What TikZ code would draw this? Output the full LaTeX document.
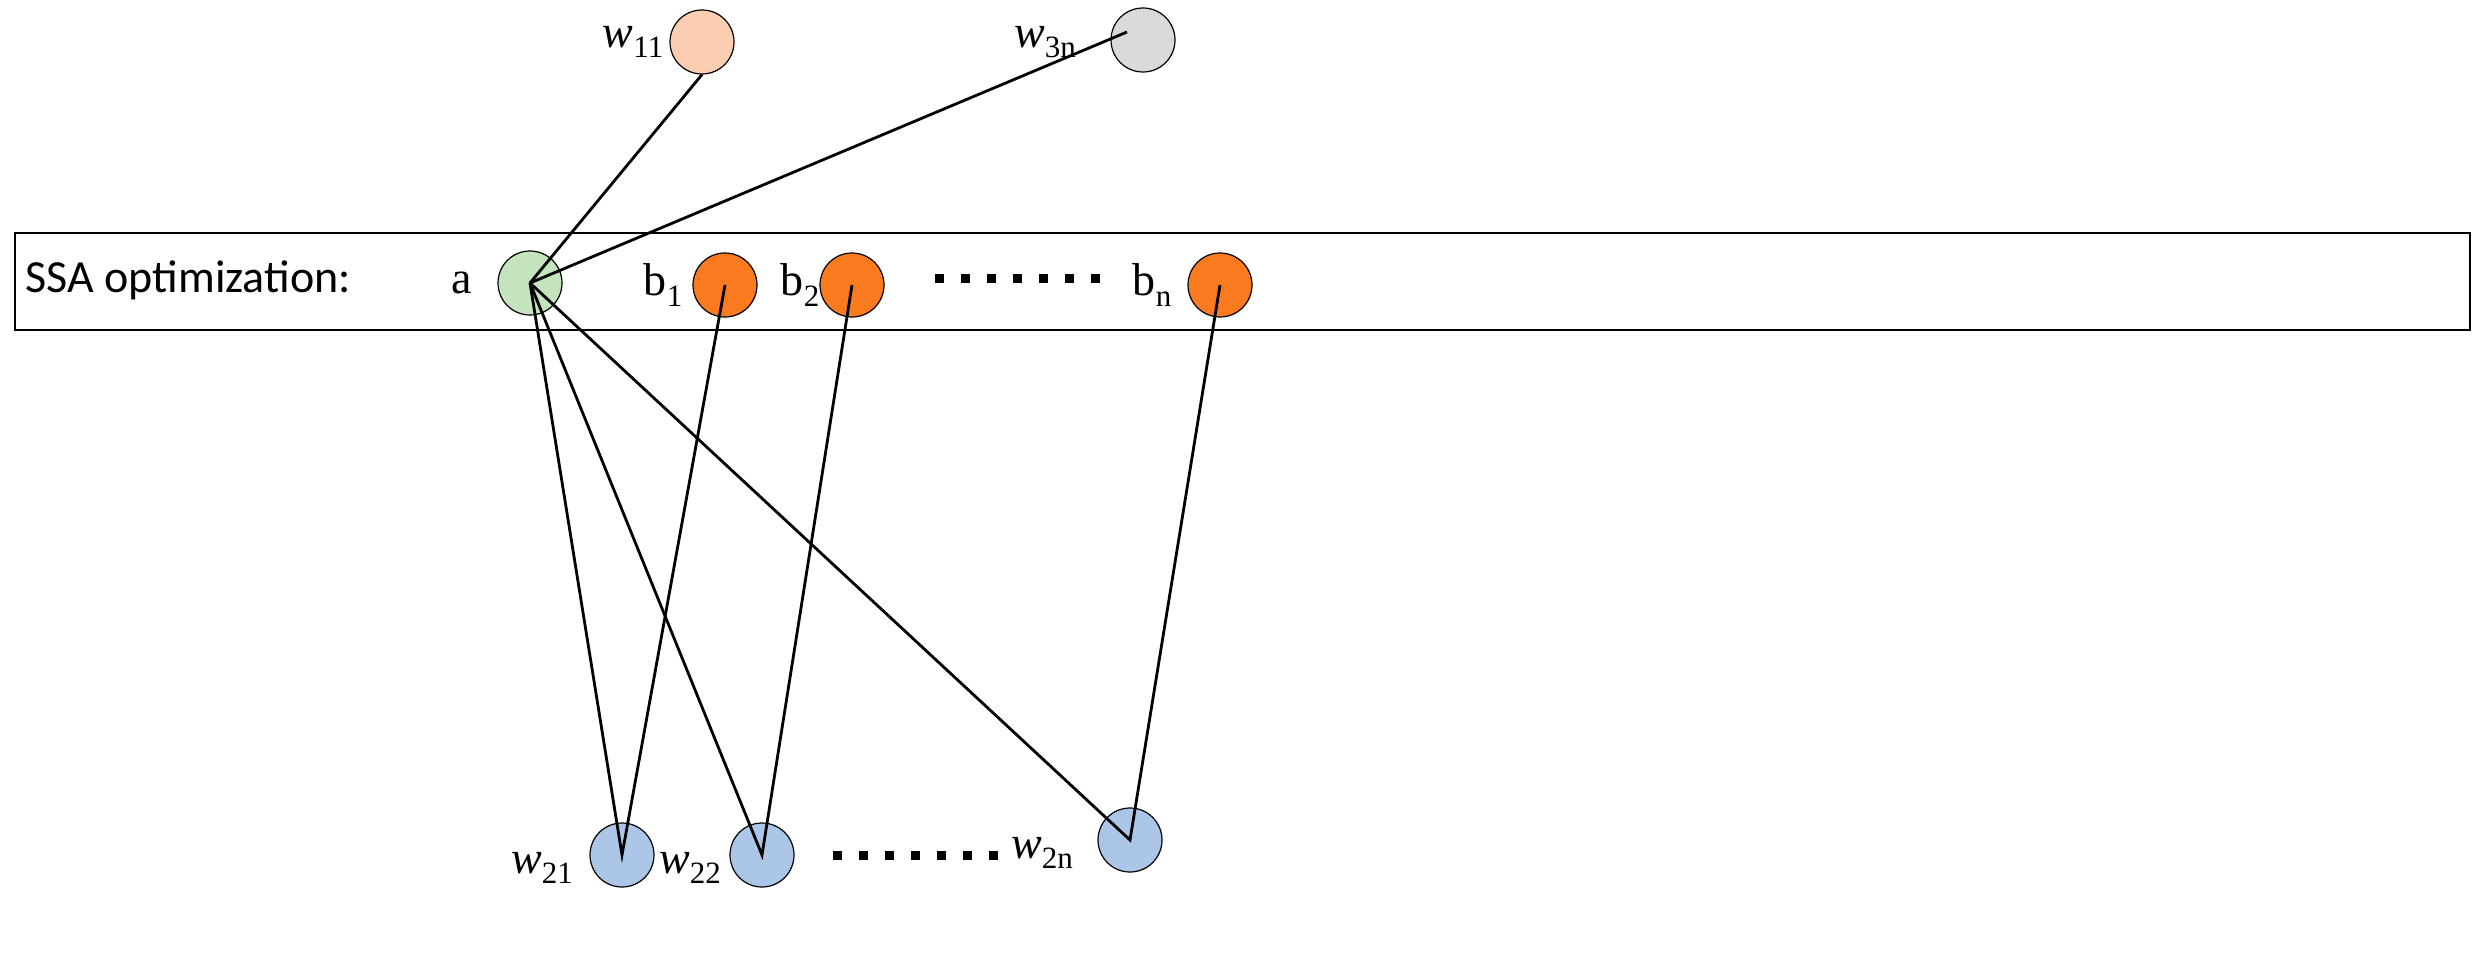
\documentclass[tikz,border=0pt]{standalone}
\usepackage{fontspec}
\setmainfont{Liberation Serif}
\newfontfamily\sansf{Carlito}
\newcommand{\sbx}[1]{\raisebox{-0.22em}{\fontsize{31}{34}\selectfont #1}}
\definecolor{bl}{RGB}{172,198,232}
\definecolor{gr}{RGB}{196,228,190}
\definecolor{og}{RGB}{250,122,32}
\definecolor{pc}{RGB}{251,206,178}
\definecolor{gy}{RGB}{218,218,218}
\begin{document}
\begin{tikzpicture}[x=1pt,y=-1pt,
  nd/.style={circle,draw=black,line width=1.2pt,minimum width=64pt,inner sep=0pt},
  lab/.style={font=\fontsize{46}{50}\selectfont,inner sep=0pt},
  ln/.style={line width=2.8pt},
  dots/.style={line width=9pt,dash pattern=on 9pt off 17pt}]
\useasboundingbox (0,0) rectangle (2488,955);
\draw[line width=2.6pt] (15,233) rectangle (2470,330);
\node[anchor=west,font=\sansf\fontsize{46}{50}\selectfont] (ssa) at (22,280) {SSA optimization:};
\node[nd,fill=gr] (a) at (530,283) {};
\node[nd,fill=og] (b1) at (725,285) {};
\node[nd,fill=og] (b2) at (852,285) {};
\node[nd,fill=og] (bn) at (1220,285) {};
\node[nd,fill=pc] (w11) at (702,42) {};
\node[nd,fill=gy] (w3n) at (1143,40) {};
\node[nd,fill=bl] (w21) at (622,855) {};
\node[nd,fill=bl] (w22) at (762,855) {};
\node[nd,fill=bl] (w2n) at (1130,840) {};
\node[lab] (la) at (462,283) {a};
\node[lab] (lb1) at (663,285) {b\sbx{1}};
\node[lab] (lb2) at (800,285) {b\sbx{2}};
\node[lab] (lbn) at (1152,285) {b\sbx{n}};
\node[lab] (lw11) at (633,42) {\textit{w}\sbx{11}};
\node[lab] (lw3n) at (1045,42) {\textit{w}\sbx{3n}};
\node[lab] (lw21) at (542,868) {\textit{w}\sbx{21}};
\node[lab] (lw22) at (690,868) {\textit{w}\sbx{22}};
\node[lab] (lw2n) at (1042,853) {\textit{w}\sbx{2n}};
\coordinate (d1a) at (935,278); \coordinate (d1b) at (1105,278);
\coordinate (d2a) at (833,855); \coordinate (d2b) at (1000,855);
\draw[dots] (d1a) -- (d1b);
\draw[dots] (d2a) -- (d2b);
\draw[ln] (a.center) -- (w11.south);
\draw[ln] (a.center) -- ([xshift=-16pt,yshift=8pt]w3n.center);
\draw[ln] (a.center) -- (w21.center) -- (b1.center);
\draw[ln] (a.center) -- (w22.center) -- (b2.center);
\draw[ln] (a.center) -- (w2n.center) -- (bn.center);
\end{tikzpicture}
\end{document}
